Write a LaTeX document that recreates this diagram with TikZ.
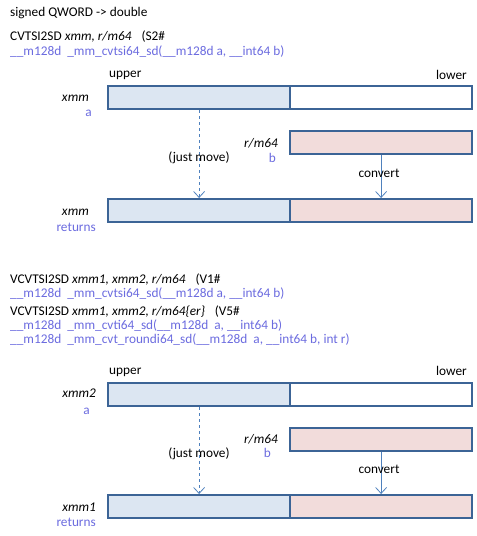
\documentclass[tikz,border=0pt]{standalone}
\usepackage{fontspec}
\setmainfont{Carlito}
\usetikzlibrary{arrows.meta}
\definecolor{boxline}{HTML}{3C6496}
\definecolor{fillblue}{HTML}{DCE6F2}
\definecolor{fillpink}{HTML}{F2DCDB}
\definecolor{codeblue}{HTML}{6B6BDF}
\definecolor{arrowblue}{HTML}{4F81BD}
\tikzset{
  regbox/.style={draw=boxline, line width=2.2pt, minimum height=23pt, anchor=north west, inner sep=0pt},
  halfbox/.style={regbox, minimum width=182pt},
  txt/.style={font=\fontsize{13.3}{15}\selectfont, inner sep=0pt, text=black},
  code/.style={txt, text=codeblue, anchor=west},
  mov/.style={draw=arrowblue, line width=0.8pt, dashed, -{Straight Barb[length=6pt,width=11pt]}},
  cvt/.style={draw=arrowblue, line width=0.8pt, -{Straight Barb[length=6pt,width=11pt]}},
}
\begin{document}
\begin{tikzpicture}[x=1pt,y=-1pt]
\useasboundingbox (0,0) rectangle (477,536);
% ---- section 1
\node[txt, anchor=west] (t1) at (10,13) {signed QWORD -> double};
\node[txt, anchor=west] (i1) at (10,37) {CVTSI2SD \textit{xmm, r/m64}\hspace{10pt}(S2\#};
\node[code] (c1) at (10,52) {\_\_m128d\ \ \_mm\_cvtsi64\_sd(\_\_m128d a, \_\_int64 b)};
\node[txt, anchor=west] (up1) at (109,75) {upper};
\node[txt, anchor=east] (lo1) at (467,75) {lower};
\node[halfbox, fill=fillblue] (a1l) at (107,85) {};
\node[halfbox, fill=white] (a1r) at (289,85) {};
\node[txt, anchor=east] (xa1) at (89,98) {\textit{xmm}};
\node[txt, anchor=east, text=codeblue] (na1) at (92,113) {a};
\node[halfbox, fill=fillpink] (b1) at (289,130) {};
\node[txt, anchor=east] (xb1) at (278,143) {\textit{r/m64}};
\node[txt, anchor=east, text=codeblue] (nb1) at (276,158) {b};
\node[halfbox, fill=fillblue] (r1l) at (107,198) {};
\node[halfbox, fill=fillpink] (r1r) at (289,198) {};
\node[txt, anchor=east] (xr1) at (89,212) {\textit{xmm}};
\node[txt, anchor=east, text=codeblue] (nr1) at (96,227) {returns};
\draw[mov] (a1l.south) -- (r1l.north);
\draw[cvt] (b1.south) -- (r1r.north);
\node[txt] (jm1) at (199,158) {(just move)};
\node[txt] (cv1) at (379,173) {convert};
% ---- section 2
\node[txt, anchor=west] (i2) at (10,280) {VCVTSI2SD \textit{xmm1, xmm2, r/m64}\hspace{10pt}(V1\#};
\node[code] (c2) at (10,293.5) {\_\_m128d\ \ \_mm\_cvtsi64\_sd(\_\_m128d a, \_\_int64 b)};
\node[txt, anchor=west] (i3) at (10,312) {VCVTSI2SD \textit{xmm1, xmm2, r/m64\{er\}}\hspace{10pt}(V5\#};
\node[code] (c3) at (10,326) {\_\_m128d\ \ \_mm\_cvti64\_sd(\_\_m128d\ \ a, \_\_int64 b)};
\node[code] (c4) at (10,340) {\_\_m128d\ \ \_mm\_cvt\_roundi64\_sd(\_\_m128d\ \ a, \_\_int64 b, int r)};
\node[txt, anchor=west] (up2) at (109,372) {upper};
\node[txt, anchor=east] (lo2) at (467,371) {lower};
\node[halfbox, fill=fillblue] (a2l) at (107,382) {};
\node[halfbox, fill=white] (a2r) at (289,382) {};
\node[txt, anchor=east] (xa2) at (96,393) {\textit{xmm2}};
\node[txt, anchor=east, text=codeblue] (na2) at (90,411) {a};
\node[halfbox, fill=fillpink] (b2) at (289,427) {};
\node[txt, anchor=east] (xb2) at (278,439) {\textit{r/m64}};
\node[txt, anchor=east, text=codeblue] (nb2) at (271,453) {b};
\node[halfbox, fill=fillblue] (r2l) at (107,494) {};
\node[halfbox, fill=fillpink] (r2r) at (289,494) {};
\node[txt, anchor=east] (xr2) at (96,507) {\textit{xmm1}};
\node[txt, anchor=east, text=codeblue] (nr2) at (96,522) {returns};
\draw[mov] (a2l.south) -- (r2l.north);
\draw[cvt] (b2.south) -- (r2r.north);
\node[txt] (jm2) at (199,454) {(just move)};
\node[txt] (cv2) at (379,469) {convert};
\end{tikzpicture}
\end{document}
